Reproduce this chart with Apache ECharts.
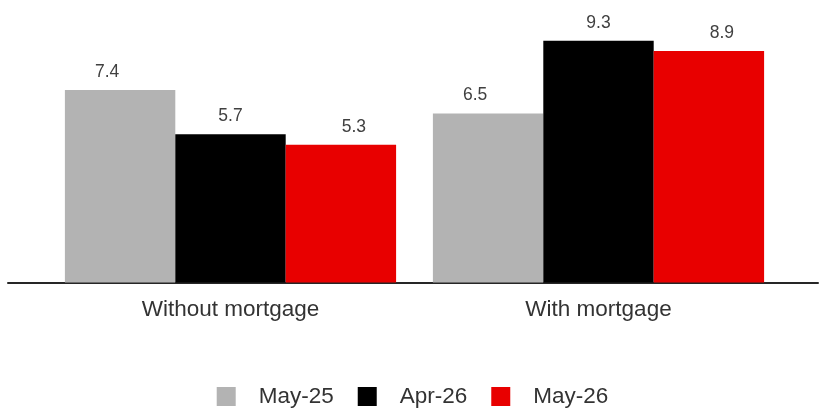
<!DOCTYPE html>
<html>
<head>
<meta charset="utf-8">
<script src="https://cdn.jsdelivr.net/npm/echarts@6/dist/echarts.min.js"></script>
<style>html,body{margin:0;padding:0;background:#fff;}#c{width:825px;height:408px;}</style>
</head>
<body>
<div id="c"></div>
<script>
const categories = ['Without mortgage', 'With mortgage'];
const seriesNames = ['May-25', 'Apr-26', 'May-26'];
const may25 = [7.4, 6.5];
const apr26 = [5.7, 9.3];
const may26 = [5.3, 8.9];

const FONT = "'Liberation Sans', Arial, sans-serif";
const colors = ['#b3b3b3', '#000000', '#e80000'];
const offsets = [[-13, 0], [0, 0], [13, 0]];
const values = [may25, apr26, may26];

const chart = echarts.init(document.getElementById('c'), null, {renderer: 'canvas'});
const common = {top: 22.5, bottom: 125.5};
chart.setOption({
  animation: false,
  textStyle: {fontFamily: FONT},
  grid: [
    Object.assign({left: 46.5, right: 42.5}, common),
    Object.assign({left: 8, right: 7}, common)
  ],
  xAxis: [
    {type: 'category', gridIndex: 0, data: categories,
     axisLine: {show: false}, axisTick: {show: false},
     axisLabel: {fontSize: 22.5, color: '#333', margin: 16, fontFamily: FONT}},
    {type: 'value', gridIndex: 1, min: 0, max: 1,
     axisLine: {show: true, lineStyle: {color: '#262626', width: 2}},
     axisTick: {show: false}, axisLabel: {show: false}, splitLine: {show: false}}
  ],
  yAxis: [
    {type: 'value', gridIndex: 0, min: 0, max: 10, show: false},
    {type: 'value', gridIndex: 1, min: 0, max: 10, show: false}
  ],
  legend: {
    bottom: 0, left: 'center', padding: 0,
    itemWidth: 19, itemHeight: 19, itemGap: 24,
    icon: 'rect',
    textStyle: {fontSize: 22.5, color: '#333', fontFamily: FONT, padding: [0, 0, 0, 18]},
    data: seriesNames
  },
  series: seriesNames.map((n, i) => ({
    name: n, type: 'bar', xAxisIndex: 0, yAxisIndex: 0,
    data: values[i],
    barGap: '0%', barCategoryGap: '10%',
    itemStyle: {color: colors[i]},
    label: {show: true, position: 'top', distance: 9, offset: offsets[i],
            fontSize: 17.5, color: '#404040', fontFamily: FONT}
  }))
});
</script>
</body>
</html>
